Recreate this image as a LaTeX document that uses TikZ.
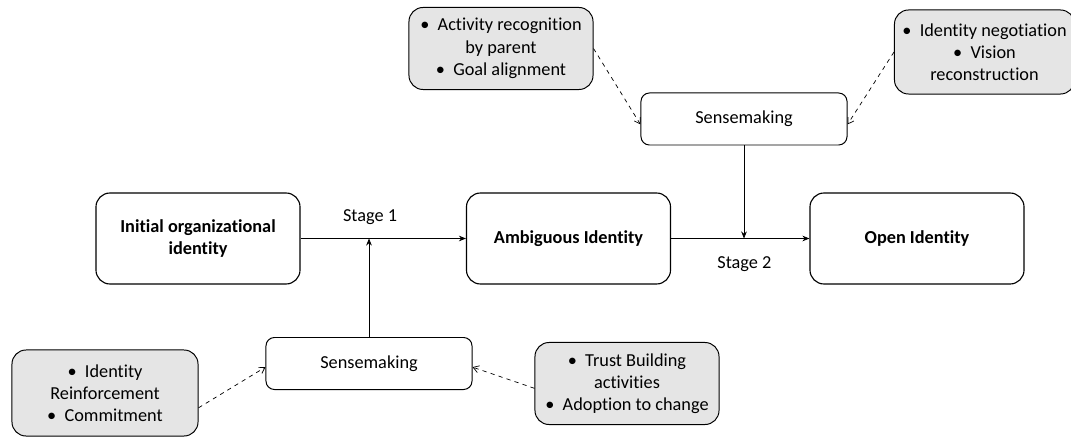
\documentclass[tikz,border=0pt]{standalone}
\usepackage{fontspec}
\setmainfont{Carlito}[Ligatures=NoCommon]
\usetikzlibrary{arrows.meta}

\begin{document}
\begin{tikzpicture}[x=0.025cm, y=-0.025cm,
    box/.style={draw, rounded corners=10pt, line width=0.8pt, minimum width=5.1cm, minimum height=2.275cm, font=\fontsize{13}{16}\selectfont\bfseries, align=center},
    sense/.style={draw, rounded corners=6pt, line width=0.7pt, minimum width=5.15cm, minimum height=1.3cm, font=\fontsize{13}{16}\selectfont},
    note/.style={draw, fill=gray!20, rounded corners=10pt, line width=0.7pt, minimum width=4.6cm, minimum height=2.05cm, font=\fontsize{13}{15.8}\selectfont, align=center},
    flow/.style={-{Stealth[length=5pt,width=4pt]}, line width=0.5pt},
    hint/.style={-{Straight Barb[length=4pt,width=5pt]}, dashed, line width=0.5pt},
]
    \useasboundingbox (0,0) rectangle (1071,439);

    % identity stages
    \node[box] (initial) at (198,238.5) {Initial organizational\\identity};
    \node[box] (ambig) at (568.5,238.5) {Ambiguous Identity};
    \node[box, minimum width=5.35cm] (open) at (917,238.5) {Open Identity};

    % sensemaking steps
    \node[sense] (sense1) at (369,363.5) {Sensemaking};
    \node[sense] (sense2) at (744,119) {Sensemaking};

    % grey notes
    \node[note] (actrec) at (501,48.5) {•~~Activity recognition\\by parent\\•~~Goal alignment};
    \node[note, minimum width=4.5cm, minimum height=2.1cm] (negot) at (984.5,52) {•~~Identity negotiation\\•~~Vision\\reconstruction};
    \node[note, minimum width=4.65cm, minimum height=2.15cm] (reinf) at (105,393) {•~~Identity\\Reinforcement\\•~~Commitment};
    \node[note] (trust) at (627,383.5) {•~~Trust Building\\activities\\•~~Adoption to change};

    \draw[flow] (initial) -- node[above=6pt, font=\fontsize{13}{16}\selectfont, pos=0.42] (stage1) {Stage 1} (ambig);
    \draw[flow] (ambig) -- node[below=9pt, font=\fontsize{13}{16}\selectfont, pos=0.53] (stage2) {Stage 2} (open);
    \draw[flow] (sense1.north) -- (sense1.north |- initial.east);
    \draw[flow] (sense2.south) -- (sense2.south |- ambig.east);

    \draw[hint] (actrec.east) -- (sense2.183);
    \draw[hint] (negot.west) -- (sense2.-3);
    \draw[hint] (reinf.-9) -- (sense1.182);
    \draw[hint] (trust.183) -- (sense1.-2);
\end{tikzpicture}
\end{document}
